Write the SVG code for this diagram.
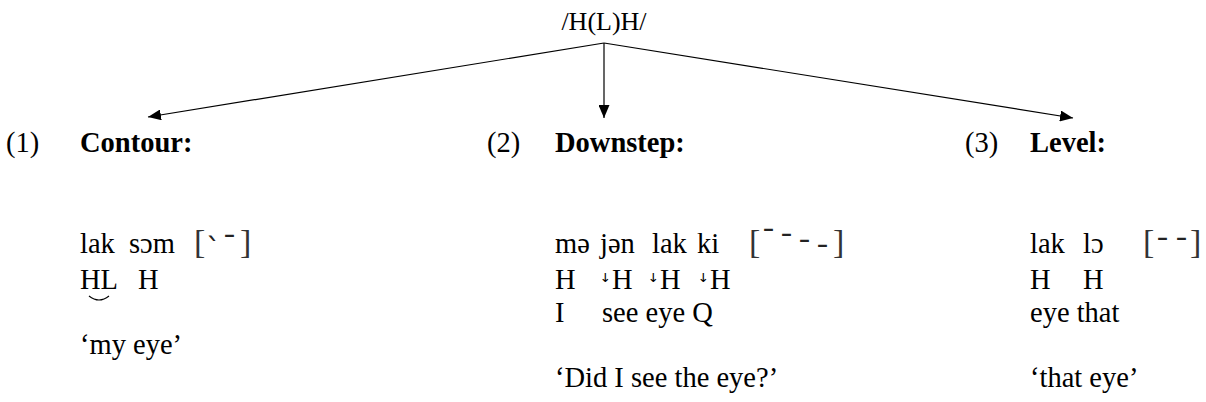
<svg xmlns="http://www.w3.org/2000/svg" width="1206" height="402" viewBox="0 0 1206 402">
<style>
text{font-family:"Liberation Serif","Times New Roman",serif;font-size:28.5px;fill:#000}
.t{font-size:26px}
.b{font-weight:bold}
.br{font-size:34px;fill:#333}
.tn{font-family:"DejaVu Sans",sans-serif;font-size:30px;fill:#222}
.ds{font-family:"DejaVu Sans",sans-serif;font-size:22px}
.ln{stroke:#000;stroke-width:1.2;fill:none}
</style>
<defs>
<marker id="ah" viewBox="0 0 13 11" refX="13" refY="5.5" markerWidth="13" markerHeight="11" markerUnits="userSpaceOnUse" orient="auto">
<path d="M0,0 L13,5.5 L0,11 Z" fill="#000"/>
</marker>
</defs>
<g id="root"><text class="t" x="604" y="30" text-anchor="middle">/H(L)H/</text></g>
<g id="connectors">
<line class="ln" x1="604" y1="43" x2="148" y2="117" marker-end="url(#ah)"/>
<line class="ln" x1="604" y1="43" x2="604" y2="118" marker-end="url(#ah)"/>
<line class="ln" x1="604" y1="43" x2="1073" y2="118" marker-end="url(#ah)"/>
</g>
<g id="contour">
<text x="6" y="152">(1)</text>
<text class="b" x="80" y="152">Contour:</text>
<text x="80" y="253">lak</text><text x="129" y="253">sɔm</text>
<text class="br" x="194" y="253">[</text>
<text class="tn" x="206" y="260">ˋ</text>
<text class="tn" x="222" y="257">ˉ</text>
<text class="br" x="240" y="253">]</text>
<text x="80" y="289">HL</text><text x="138" y="289">H</text>
<path class="ln" d="M89,296 Q99,304 109,296"/>
<text x="80" y="354">‘my eye’</text>
</g>
<g id="downstep">
<text x="487" y="152">(2)</text>
<text class="b" x="555" y="152">Downstep:</text>
<text x="555" y="253">mə</text><text x="600" y="253">jən</text><text x="652" y="253">lak</text><text x="697" y="253">ki</text>
<text class="br" x="749" y="253">[</text>
<text class="tn" x="761" y="251">ˉ</text>
<text class="tn" x="779" y="256">ˉ</text>
<text class="tn" x="797" y="262">ˉ</text>
<text class="tn" x="815" y="267">ˉ</text>
<text class="br" x="833" y="253">]</text>
<text x="555" y="289">H</text>
<text class="ds" x="601" y="289">ꜜ</text><text x="612" y="289">H</text>
<text class="ds" x="649" y="289">ꜜ</text><text x="660" y="289">H</text>
<text class="ds" x="699" y="289">ꜜ</text><text x="710" y="289">H</text>
<text x="555" y="322">I</text><text x="602" y="322">see eye Q</text>
<text x="555" y="387">‘Did I see the eye?’</text>
</g>
<g id="level">
<text x="965" y="152">(3)</text>
<text class="b" x="1030" y="152">Level:</text>
<text x="1030" y="253">lak</text><text x="1083" y="253">lɔ</text>
<text class="br" x="1143" y="253">[</text>
<text class="tn" x="1155" y="260">ˉ</text>
<text class="tn" x="1174" y="260">ˉ</text>
<text class="br" x="1190" y="253">]</text>
<text x="1030" y="289">H</text><text x="1083" y="289">H</text>
<text x="1030" y="322">eye that</text>
<text x="1030" y="387">‘that eye’</text>
</g>
</svg>
